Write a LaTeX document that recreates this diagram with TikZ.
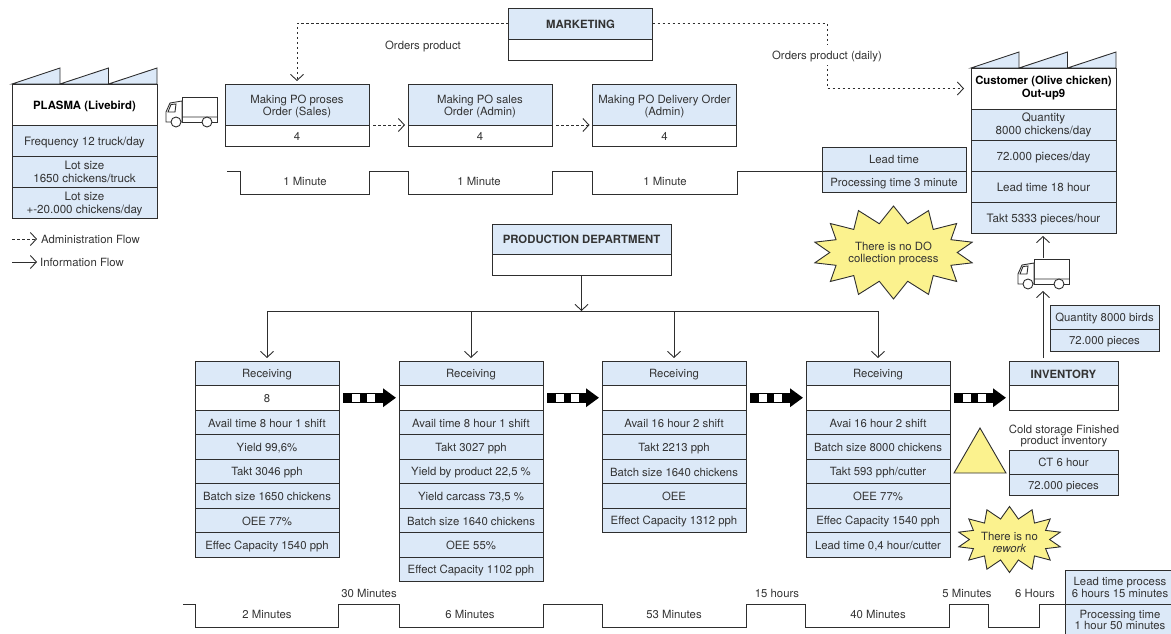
\documentclass[tikz,border=0pt]{standalone}
\usepackage{fontspec}
\setmainfont{TeX Gyre Heros}
\usetikzlibrary{arrows.meta,positioning,shapes.geometric,shapes.symbols}

\definecolor{cellblue}{HTML}{DCE9F8}
\definecolor{burstyellow}{HTML}{FBF28E}
\definecolor{linegray}{HTML}{2E2E2E}
\definecolor{textgray}{HTML}{333333}

\newcommand{\cellstrut}{\rule[-2pt]{0pt}{13.8pt}}
\newcommand{\dropline}[1]{\rule{0pt}{#1}}

\tikzset{
  cellfont/.style={font=\fontsize{11.35}{11.7}\selectfont},
  wide/.style={font=\fontsize{11.6}{13}\selectfont},
  cell/.style={draw=linegray, line width=0.9pt, fill=cellblue, text=textgray, minimum width=144pt, minimum height=24.5pt,
    inner sep=0pt, outer sep=0pt, align=center, cellfont,
    execute at begin node=\cellstrut, execute at end node=\cellstrut},
  whitecell/.style={cell, fill=white},
  lbl/.style={text=textgray, inner sep=0pt, align=center, cellfont,
    execute at begin node=\cellstrut, execute at end node=\cellstrut},
  burst/.style={starburst, starburst points=14, random starburst=0, starburst point height=17pt, draw=linegray, line width=0.9pt,
    fill=burstyellow, text=textgray, inner sep=0pt, align=center, cellfont,
    execute at begin node=\cellstrut, execute at end node=\cellstrut},
  info/.style={draw=linegray, line width=0.9pt, ->, >={Straight Barb[length=6pt,width=13pt]}},
  admin/.style={info, dash pattern=on 2.5pt off 2.5pt},
  push/.style={line width=10pt, shorten <=4pt, shorten >=3pt, -{Triangle[length=13pt,width=18pt]},
    postaction={draw=white, -, line width=8pt, dash pattern=on 0pt off 9pt on 7.5pt off 7.5pt on 8pt off 200pt}},
  timeline/.style={draw=linegray, line width=0.9pt},
  pics/roof/.style={code={
    \draw[draw=linegray, line width=0.9pt, fill=cellblue] (0,0) -- (48,-16) -- (48,0) -- (96.5,-16) -- (96.5,0) -- (145,-16) -- (145,0) -- cycle;
  }},
  pics/truck/.style={code={
    \draw[draw=linegray, fill=white, line width=0.9pt] (16,1) rectangle (51,26);
    \draw[draw=linegray, fill=white, line width=0.9pt] (16,5) -- (4,7) -- (0,16) -- (0,26) -- (16,26) -- cycle;
    \draw[draw=linegray, line width=0.9pt] (2,16) -- (9,16) -- (10,8) -- (5,8.5) -- cycle (16,21) -- (51,21);
    \draw[draw=linegray, fill=white, line width=0.9pt] (10,26) circle (5) (41,26) circle (5);
  }}
}

\begin{document}
\begin{tikzpicture}[x=1pt, y=-1pt]

  \useasboundingbox (0,0) rectangle (1171,634);
  \clip (0,0) rectangle (1171,634);

  % Supplier
  \node[whitecell, minimum width=145pt, minimum height=41pt, font=\fontsize{11.35}{13}\selectfont\bfseries, text=black] (plasma) at (84.5,104.5) {PLASMA (Livebird)};
  \node[cell, wide, minimum width=145pt, minimum height=31pt, below=0pt of plasma] (plasma1) {Frequency 12 truck/day};
  \node[cell, wide, minimum width=145pt, minimum height=31pt, below=0pt of plasma1] (plasma2) {\dropline{11pt}Lot size\\1650 chickens/truck};
  \node[cell, wide, minimum width=145pt, minimum height=31pt, below=0pt of plasma2] (plasma3) {\dropline{11pt}Lot size\\+-20.000 chickens/day};
  \pic at (plasma.north west) {roof};
  \pic at (166,96) {truck};

  % Legend
  \node[lbl, anchor=west] (legadmin) at (41,239) {Administration Flow};
  \node[lbl, anchor=west] (leginfo) at (40,262) {Information Flow};
  \coordinate (legadminstart) at (12,239);
  \coordinate (leginfostart) at (12,262);
  \draw[admin, shorten >=4pt] (legadminstart) -- (legadmin.west);
  \draw[info, shorten >=3pt] (leginfostart) -- (leginfo.west);

  % Order processes
  \node[cell, minimum height=31pt] (marketing) at (580.5,23.5) {\textbf{MARKETING}};
  \node[whitecell, minimum height=21pt, below=0pt of marketing] (marketingbase) {};

  \node[cell, minimum height=41pt] (po1) at (297,104.5) {\dropline{12.5pt}Making PO proses\\Order (Sales)};
  \node[whitecell, minimum height=21pt, below=0pt of po1] (po1base) {4};
  \node[cell, minimum height=41pt] (po2) at (480,104.5) {\dropline{12.5pt}Making PO sales\\Order (Admin)};
  \node[whitecell, minimum height=21pt, below=0pt of po2] (po2base) {4};
  \node[cell, minimum height=41pt] (po3) at (664.5,104.5) {\dropline{12.5pt}Making PO Delivery Order\\(Admin)};
  \node[whitecell, minimum height=21pt, below=0pt of po3] (po3base) {4};

  \node[lbl] (ordersleft) at (423,45) {Orders product};
  \coordinate (ordersbend) at (827,88.5);

  % Customer
  \node[whitecell, minimum width=145pt, minimum height=41pt, font=\fontsize{11.35}{13}\selectfont\bfseries, text=black] (customer) at (1043.5,88.5) {Customer (Olive chicken)\\Out-up9};
  \node[cell, wide, minimum width=145pt, minimum height=31pt, below=0pt of customer] (customer1) {Quantity\\8000 chickens/day};
  \node[cell, wide, minimum width=145pt, minimum height=31pt, below=0pt of customer1] (customer2) {72.000 pieces/day};
  \node[cell, wide, minimum width=145pt, minimum height=31pt, below=0pt of customer2] (customer3) {Lead time 18 hour};
  \node[cell, wide, minimum width=145pt, minimum height=31pt, below=0pt of customer3] (customer4) {Takt 5333 pieces/hour};
  \pic at (customer.north west) {roof};
  \pic at (1018,258) {truck};

  \node[cell, minimum height=24pt] (leadtop) at (894,159) {Lead time};
  \node[cell, minimum height=21pt, below=0pt of leadtop] (leadbottom) {Processing time 3 minute};

  \draw[admin, shorten >=3pt] (marketing.west) -| (po1.north);
  \draw[admin, shorten >=7pt] (marketing.east) -| (ordersbend) -- (customer.west);
  \node[lbl, fill=white, inner ysep=3pt] (ordersright) at (827,55) {Orders product (daily)};
  \draw[admin, shorten <=4pt, shorten >=3pt] (po1.south east) -- (po2.south west);
  \draw[admin, shorten <=4pt, shorten >=3pt] (po2.south east) -- (po3.south west);

  % Upper timeline
  \draw[timeline] (227,171) -- (240,171) -- (240,194) -- (369,194) -- (369,171) -- (408,171) -- (408,194) -- (552,194)
    -- (552,171) -- (592,171) -- (592,194) -- (737,194) -- (737,171) -- (leadtop.south west);
  \node[lbl] (time1) at (305,181) {1 Minute};
  \node[lbl] (time2) at (479,181) {1 Minute};
  \node[lbl] (time3) at (665,181) {1 Minute};

  % Production control
  \node[cell, minimum width=179pt, minimum height=30pt] (production) at (581.5,239) {\textbf{PRODUCTION DEPARTMENT}};
  \node[whitecell, minimum width=179pt, minimum height=21pt, below=0pt of production] (productionbase) {};
  \coordinate (split) at (581.5,311);

  \node[burst, minimum width=157pt, minimum height=93pt] (burstdo) at (893.5,252.5) {\dropline{11pt}There is no DO\\collection process};

  % Process columns
  \node[cell] (recv1) at (267,373.25) {Receiving};
  \node[whitecell, below=0pt of recv1] (recv1base) {8};
  \node[cell, below=0pt of recv1base] (a1) {Avail time 8 hour 1 shift};
  \node[cell, below=0pt of a1] (a2) {Yield 99,6\%};
  \node[cell, below=0pt of a2] (a3) {Takt 3046 pph};
  \node[cell, below=0pt of a3] (a4) {Batch size 1650 chickens};
  \node[cell, below=0pt of a4] (a5) {OEE 77\%};
  \node[cell, below=0pt of a5] (a6) {Effec Capacity 1540 pph};

  \node[cell] (recv2) at (471,373.25) {Receiving};
  \node[whitecell, below=0pt of recv2] (recv2base) {};
  \node[cell, below=0pt of recv2base] (b1) {Avail time 8 hour 1 shift};
  \node[cell, below=0pt of b1] (b2) {Takt 3027 pph};
  \node[cell, below=0pt of b2] (b3) {Yield by product 22,5 \%};
  \node[cell, below=0pt of b3] (b4) {Yield carcass 73,5 \%};
  \node[cell, below=0pt of b4] (b5) {Batch size 1640 chickens};
  \node[cell, below=0pt of b5] (b6) {OEE 55\%};
  \node[cell, below=0pt of b6] (b7) {Effect Capacity 1102 pph};

  \node[cell] (recv3) at (674,373.25) {Receiving};
  \node[whitecell, below=0pt of recv3] (recv3base) {};
  \node[cell, below=0pt of recv3base] (c1) {Avail 16 hour 2 shift};
  \node[cell, below=0pt of c1] (c2) {Takt 2213 pph};
  \node[cell, below=0pt of c2] (c3) {Batch size 1640 chickens};
  \node[cell, below=0pt of c3] (c4) {OEE};
  \node[cell, below=0pt of c4] (c5) {Effect Capacity 1312 pph};

  \node[cell] (recv4) at (878,373.25) {Receiving};
  \node[whitecell, below=0pt of recv4] (recv4base) {};
  \node[cell, below=0pt of recv4base] (d1) {Avai 16 hour 2 shift};
  \node[cell, below=0pt of d1] (d2) {Batch size 8000 chickens};
  \node[cell, below=0pt of d2] (d3) {Takt 593 pph/cutter};
  \node[cell, below=0pt of d3] (d4) {OEE 77\%};
  \node[cell, below=0pt of d4] (d5) {Effec Capacity 1540 pph};
  \node[cell, below=0pt of d5] (d6) {Lead time 0,4 hour/cutter};

  % Inventory
  \node[cell, minimum width=109pt] (inventory) at (1063.5,373.25) {\textbf{INVENTORY}};
  \node[whitecell, minimum width=109pt, below=0pt of inventory] (inventorybase) {};
  \node[lbl] (coldstorage) at (1064,436) {Cold storage Finished\\product inventory};
  \node[cell, minimum width=109pt, minimum height=24pt] (ct) at (1063.5,462) {CT 6 hour};
  \node[cell, minimum width=109pt, minimum height=21pt, below=0pt of ct] (ctpieces) {72.000 pieces};
  \node[regular polygon, regular polygon sides=3, draw=linegray, line width=0.9pt, fill=burstyellow, minimum size=60pt, inner sep=0pt] (stock) at (980,458) {};

  \node[cell, minimum width=109pt, minimum height=24pt] (quantity) at (1104.5,317) {Quantity 8000 birds};
  \node[cell, minimum width=109pt, minimum height=22pt, below=0pt of quantity] (quantitypieces) {72.000 pieces};

  \node[burst, starburst point height=12pt, minimum width=103pt, minimum height=61pt] (burstrework) at (1009.5,539.5) {\dropline{16pt}There is no\\\textit{rework}};

  % Edges
  \draw[info] (productionbase.south) -- (split);
  \draw[info, shorten >=3pt] (split) -| (recv1.north);
  \draw[info, shorten >=3pt] (split) -| (recv2.north);
  \draw[info, shorten >=3pt] (split) -| (recv3.north);
  \draw[info, shorten >=3pt] (split) -| (recv4.north);

  \draw[push] (recv1base.east) -- (recv2base.west);
  \draw[push] (recv2base.east) -- (recv3base.west);
  \draw[push] (recv3base.east) -- (recv4base.west);
  \draw[push] (recv4base.east) -- (inventorybase.west);

  \coordinate (truckbottom) at (1043,291);
  \coordinate (trucktop) at (1043,258);
  \coordinate (inventorytop) at (1043,358);
  \draw[info] (inventorytop) -- (truckbottom);
  \draw[info, shorten >=3pt] (trucktop) -- (customer4.south -| trucktop);

  % Lower timeline
  \node[cell, minimum width=110pt, minimum height=34pt, anchor=north west] (leadprocess) at (1065,570) {\dropline{11.5pt}Lead time process\\6 hours 15 minutes};
  \node[cell, minimum width=110pt, minimum height=34pt, below=0pt of leadprocess] (processing) {Processing time\\1 hour 50 minutes};
  \draw[timeline] (183,604) -- (195,604) -- (195,627) -- (338,627) -- (338,604) -- (399,604) -- (399,627) -- (543,627)
    -- (543,604) -- (602,604) -- (602,627) -- (746,627) -- (746,604) -- (805,604) -- (805,627) -- (949,627)
    -- (949,604) -- (988,604) -- (988,627) -- (1039,627) -- (1039,604) -- (leadprocess.south west);
  \node[lbl] (t1) at (267,614) {2 Minutes};
  \node[lbl] (t2) at (369,593) {30 Minutes};
  \node[lbl] (t3) at (470,614) {6 Minutes};
  \node[lbl] (t4) at (674,614) {53 Minutes};
  \node[lbl] (t5) at (777,593) {15 hours};
  \node[lbl] (t6) at (878,614) {40 Minutes};
  \node[lbl] (t7) at (967,593) {5 Minutes};
  \node[lbl] (t8) at (1035,593) {6 Hours};

\end{tikzpicture}
\end{document}
